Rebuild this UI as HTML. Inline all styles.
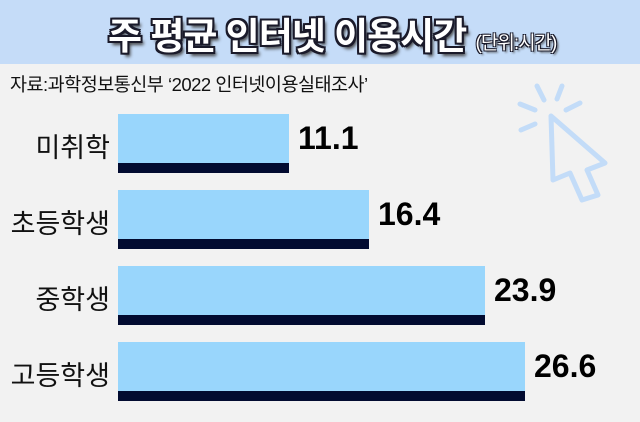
<!DOCTYPE html><html><head><meta charset="utf-8"><style>
body{margin:0;width:640px;height:422px;background:#f2f2f2;position:relative;overflow:hidden;font-family:"Liberation Sans","Noto Sans CJK KR",sans-serif}
.hd{position:absolute;left:0;top:0;width:640px;height:64px;background:#c5dcf8}
.t{position:absolute;left:108px;top:6px;white-space:nowrap;font-size:37px;font-weight:bold;color:#fff;letter-spacing:-1px;text-shadow:-2px -2px 0 #1a1a2a,2px -2px 0 #1a1a2a,-2px 2px 0 #1a1a2a,2px 2px 0 #1a1a2a,0 2px 0 #1a1a2a,0 -2px 0 #1a1a2a,2px 0 0 #1a1a2a,-2px 0 0 #1a1a2a,3px 4px 3px #444}
.t small{font-size:19px;font-weight:normal;letter-spacing:-1px;text-shadow:-1px -1px 0 #1a1a2a,1px -1px 0 #1a1a2a,-1px 1px 0 #1a1a2a,1px 1px 0 #1a1a2a,2px 2px 2px #444}
.src{position:absolute;left:10px;top:71px;font-size:18.5px;color:#111;letter-spacing:-0.5px}
.bar{position:absolute;left:118px;background:#99d6fc;border-bottom:10px solid #020b30;height:49px}
.lb{position:absolute;right:530px;font-size:27px;color:#111;text-align:right;white-space:nowrap}
.v{position:absolute;font-size:32px;font-weight:bold;color:#000}
</style></head><body>
<div class="hd"></div>
<div class="t">주 평균 인터넷 이용시간 <small>(단위:시간)</small></div>
<div class="src">자료:과학정보통신부 ‘2022 인터넷이용실태조사’</div>
<svg style="position:absolute;left:0;top:0" width="640" height="422"><g fill="none" stroke="#c3dcf8" stroke-width="5" stroke-linecap="round" stroke-linejoin="round">
<path d="M551 116 L553 180 L570 173 L582 200 L598 195 L587 170 L605 163 Z"/>
<path d="M537 86 L544 100 M562 86 L557 99 M520 104 L535 110 M521 130 L535 124 M566 110 L580 103"/></g></svg>
<div class="bar" style="top:114px;width:171px"></div>
<div class="bar" style="top:190px;width:251px"></div>
<div class="bar" style="top:266px;width:367px"></div>
<div class="bar" style="top:342px;width:407px"></div>
<div class="lb" style="top:126px">미취학</div>
<div class="lb" style="top:202px">초등학생</div>
<div class="lb" style="top:278px">중학생</div>
<div class="lb" style="top:354px">고등학생</div>
<div class="v" style="left:298px;top:120px">11.1</div>
<div class="v" style="left:378px;top:196px">16.4</div>
<div class="v" style="left:494px;top:272px">23.9</div>
<div class="v" style="left:534px;top:348px">26.6</div>
</body></html>
